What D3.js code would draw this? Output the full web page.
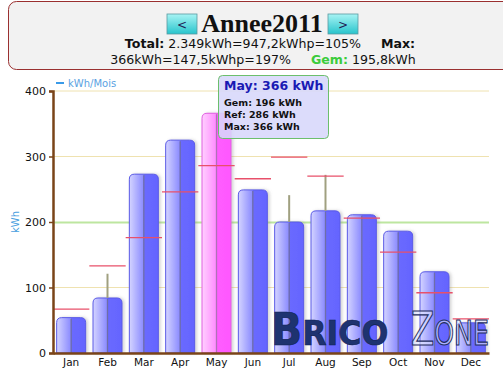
<!DOCTYPE html>
<html><head><meta charset="utf-8">
<script src="https://cdn.jsdelivr.net/npm/d3@7"></script>
<style>body{margin:0;background:#fff;}svg{display:block;}</style>
</head><body>
<svg id="c" width="503" height="373"></svg>
<script>
const months = ["Jan","Feb","Mar","Apr","May","Jun","Jul","Aug","Sep","Oct","Nov","Dec"];
const kwh    = [54, 84, 273, 325, 366, 249, 200, 217, 211, 186, 124, 46];
const refVals= [67, 133, 176, 246, 286, 266, 299, 270, 206, 154, 92, 52];
const maxVals= [54, 121, 273, 325, 366, 249, 241, 272, 211, 186, 124, 46];
const gem = 196;
const yTicks = [0, 100, 200, 300, 400];
const highlight = "May";

const svg = d3.select("#c");
const defs = svg.append("defs");
function grad(id, stops){
  const g = defs.append("linearGradient").attr("id", id).attr("x1","0").attr("x2","1").attr("y1","0").attr("y2","0");
  stops.forEach(s => g.append("stop").attr("offset", s[0]).attr("stop-color", s[1]));
}
grad("gb", [[0,"#d4d4ff"],[0.48,"#8c8cff"],[0.5,"#6a6aff"],[1,"#6464ff"]]);
grad("gp", [[0,"#ffd0ff"],[0.48,"#ff8cff"],[0.5,"#ff5cff"],[1,"#ff58ff"]]);
const btnV = defs.append("linearGradient").attr("id","btnv").attr("x1","0").attr("x2","0").attr("y1","0").attr("y2","1");
btnV.append("stop").attr("offset",0).attr("stop-color","#a8f4f4");
btnV.append("stop").attr("offset",1).attr("stop-color","#28c4cc");
const sh = defs.append("filter").attr("id","sh").attr("x","-20%").attr("y","-20%").attr("width","150%").attr("height","140%");
sh.append("feDropShadow").attr("dx",2).attr("dy",0).attr("stdDeviation",1.5).attr("flood-color","#888").attr("flood-opacity",0.35);

// Header box
svg.append("rect").attr("x",8.5).attr("y",1.5).attr("width",510).attr("height",68).attr("rx",8)
  .attr("fill","#f2f2f2").attr("stroke","#9a3030").attr("stroke-width",1);
[[167,"<"],[328,">"]].forEach(([x,t])=>{
  svg.append("rect").attr("x",x).attr("y",14).attr("width",30).attr("height",20).attr("fill","url(#btnv)").attr("stroke","#5a9aa0").attr("stroke-width",0.8);
  svg.append("text").attr("x",x+15).attr("y",29).attr("text-anchor","middle").attr("font-family","DejaVu Sans").attr("font-size",12).attr("fill","#225").text(t);
});
svg.append("text").attr("x",262).attr("y",32).attr("text-anchor","middle")
  .attr("font-family","Liberation Serif").attr("font-weight","bold").attr("font-size",26).attr("fill","#111").text("Annee2011");
const l1 = svg.append("text").attr("x",270).attr("y",48).attr("text-anchor","middle").attr("font-family","DejaVu Sans").attr("font-size",12.6).attr("fill","#111");
l1.append("tspan").attr("font-weight","bold").text("Total:");
l1.append("tspan").text(" 2.349kWh=947,2kWhp=105%\u00a0\u00a0\u00a0\u00a0\u00a0");
l1.append("tspan").attr("font-weight","bold").text("Max:");
const l2 = svg.append("text").attr("x",263).attr("y",64).attr("text-anchor","middle").attr("font-family","DejaVu Sans").attr("font-size",12.6).attr("fill","#111");
l2.append("tspan").text("366kWh=147,5kWhp=197%\u00a0\u00a0\u00a0\u00a0\u00a0");
l2.append("tspan").attr("font-weight","bold").attr("fill","#3ccc3c").text("Gem:");
l2.append("tspan").text(" 195,8kWh");

// Chart
const x = d3.scaleBand().domain(months).range([53, 489]).padding(0);
const y = d3.scaleLinear().domain([0, 400]).range([353, 91]);
const bw = 29;

// grid
svg.append("g").selectAll("line").data(yTicks.filter(t => t > 0 && t !== 200)).join("line")
  .attr("x1",53).attr("x2",489).attr("y1",d=>y(d)).attr("y2",d=>y(d)).attr("stroke","#efe2b0").attr("stroke-width",1);
svg.append("line").attr("x1",53).attr("x2",489).attr("y1",y(gem)-2).attr("y2",y(gem)-2).attr("stroke","#bde6a0").attr("stroke-width",2);

// legend
svg.append("line").attr("x1",56).attr("x2",64).attr("y1",83).attr("y2",83).attr("stroke","#3a9ae8").attr("stroke-width",2);
svg.append("text").attr("x",68).attr("y",87).attr("font-family","DejaVu Sans").attr("font-size",10).attr("fill","#5aa2e2").text("kWh/Mois");
// y title
svg.append("text").attr("transform","translate(19,222) rotate(-90)").attr("text-anchor","middle")
  .attr("font-family","DejaVu Sans").attr("font-size",10).attr("fill","#4aa0e0").text("kWh");

// bars
function barPath(x0, w, yTop, yBot, r){
  r = Math.min(r, (yBot-yTop));
  return `M${x0},${yBot} L${x0},${yTop+r} Q${x0},${yTop} ${x0+r},${yTop} L${x0+w-r},${yTop} Q${x0+w},${yTop} ${x0+w},${yTop+r} L${x0+w},${yBot} Z`;
}
const data = months.map((m,i)=>({m, v:kwh[i], r:refVals[i], mx:maxVals[i]}));
const gb = svg.append("g");
data.forEach(d=>{
  const cx = x(d.m) + x.bandwidth()/2;
  const hl = d.m === highlight;
  gb.append("path").attr("d", barPath(cx-bw/2, bw, y(d.v), y(0), 5))
    .attr("fill", hl ? "url(#gp)" : "url(#gb)").attr("stroke", hl ? "#e060e0" : "#5a5ae6").attr("stroke-width",1).attr("filter","url(#sh)");
  gb.append("line").attr("x1",cx).attr("x2",cx).attr("y1",y(d.v)+1).attr("y2",y(0))
    .attr("stroke", hl ? "#b070b8" : "#6e6ea8").attr("stroke-width",1.3);
  if (d.mx > d.v) {
    gb.append("line").attr("x1",cx).attr("x2",cx).attr("y1",y(d.mx)).attr("y2",y(d.v))
      .attr("stroke","#a0a080").attr("stroke-width",2);
  }
  gb.append("line").attr("x1",x(d.m)).attr("x2",x(d.m)+x.bandwidth()).attr("y1",y(d.r)).attr("y2",y(d.r))
    .attr("stroke","#e8506a").attr("stroke-width",1.3);
});

// watermark
const wm = svg.append("g").attr("font-family","DejaVu Sans").attr("font-weight","bold");
const wt = wm.append("text").attr("transform","translate(271,345) scale(0.93,1)").attr("fill","#1e3370").attr("stroke","#0e2050").attr("stroke-width",0.6);
wt.append("tspan").attr("font-size",44).text("B");
wt.append("tspan").attr("font-size",34).text("RICO");
const wt2 = wm.append("text").attr("transform","translate(411,345) scale(0.74,1)").attr("fill","rgba(220,225,255,0.6)").attr("stroke","#1e2e60").attr("stroke-width",1.2).attr("font-weight","normal");
wt2.append("tspan").attr("font-size",46).text("Z");
wt2.append("tspan").attr("font-size",34).text("ONE");

// axes
const ya = svg.append("g").attr("transform","translate(53,0)")
  .call(d3.axisLeft(y).tickValues(yTicks).tickSize(4).tickPadding(3));
ya.select(".domain").attr("stroke","#7a4418").attr("stroke-width",2.5);
ya.selectAll(".tick line").attr("stroke","#7a4418").attr("stroke-width",1.5);
ya.selectAll("text").attr("font-family","DejaVu Sans").attr("font-size",11).attr("fill","#111");
const xa = svg.append("g").attr("transform","translate(0,353)")
  .call(d3.axisBottom(x).tickSize(0).tickPadding(6));
xa.select(".domain").attr("stroke","#7a4418").attr("stroke-width",2.5);
xa.selectAll("text").attr("font-family","DejaVu Sans").attr("font-size",10.5).attr("fill","#111");

// tooltip
const tt = svg.append("g");
tt.append("rect").attr("x",218.5).attr("y",75.5).attr("width",110).attr("height",63).attr("rx",4)
  .attr("fill","rgba(215,215,250,0.88)").attr("stroke","#6cbf6c").attr("stroke-width",1);
tt.append("text").attr("x",224).attr("y",90).attr("font-family","DejaVu Sans").attr("font-weight","bold").attr("font-size",12.5).attr("fill","#1a1ab4").text("May: 366 kWh");
["Gem: 196 kWh","Ref: 286 kWh","Max: 366 kWh"].forEach((t,i)=>
  tt.append("text").attr("x",224).attr("y",106+i*12).attr("font-family","DejaVu Sans").attr("font-weight","bold").attr("font-size",9.5).attr("fill","#111").text(t));
</script>
</body></html>
